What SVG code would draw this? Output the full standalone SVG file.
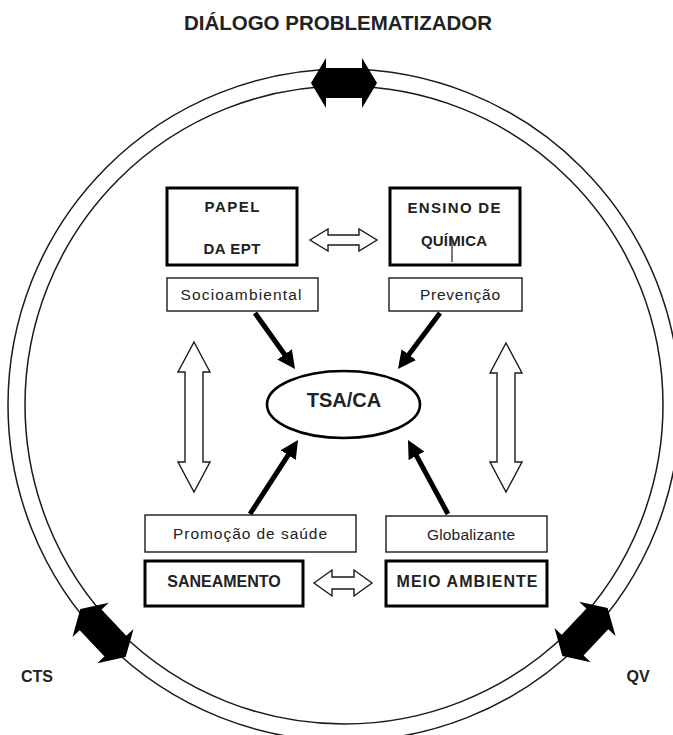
<svg xmlns="http://www.w3.org/2000/svg" width="673" height="735" viewBox="0 0 673 735">
<style>
.ring{fill:none;stroke:#1a1a1a;stroke-width:1.5}
.big{fill:#fff;stroke:#000;stroke-width:3}
.small{fill:#fff;stroke:#1a1a1a;stroke-width:1.4}
.hollow{fill:#fff;stroke:#1a1a1a;stroke-width:1.4;stroke-linejoin:miter}
.block{fill:#000}
.bt{font-family:"Liberation Sans",Arial,sans-serif;font-weight:bold;fill:#222;text-anchor:middle}
.rt{font-family:"Liberation Sans",Arial,sans-serif;fill:#222;text-anchor:middle}
.conn{stroke:#000;stroke-width:5;fill:none}
</style>
<defs>
<marker id="ah" markerUnits="userSpaceOnUse" markerWidth="20" markerHeight="18" refX="2" refY="9" orient="auto">
<path d="M0,0 L18,9 L0,18 Z" fill="#000"/>
</marker>
<path id="blk" d="M-33,0 L-18,-25 L-18,-15 L18,-15 L18,-25 L33,0 L18,25 L18,15 L-18,15 L-18,25 Z"/>
</defs>
<rect width="673" height="735" fill="#fff"/>
<text class="bt" x="338" y="30" font-size="20.5">DIÁLOGO PROBLEMATIZADOR</text>
<g id="ring">
<circle class="ring" cx="344" cy="405" r="336"/>
<circle class="ring" cx="344" cy="405" r="319"/>
<use href="#blk" class="block" transform="translate(344,83)"/>
<use href="#blk" class="block" transform="translate(103,633) rotate(46.6)"/>
<use href="#blk" class="block" transform="translate(585,632) rotate(-46.7)"/>
</g>
<g id="papel">
<rect class="big" x="167" y="188" width="130" height="77"/>
<text class="bt" x="232" y="212" font-size="15" textLength="55" lengthAdjust="spacing">PAPEL</text>
<text class="bt" x="232" y="254" font-size="15" textLength="57" lengthAdjust="spacing">DA EPT</text>
</g>
<g id="ensino">
<rect class="big" x="390" y="188" width="130" height="77"/>
<text class="bt" x="454" y="213" font-size="15" textLength="93" lengthAdjust="spacing">ENSINO DE</text>
<text class="bt" x="454" y="246" font-size="15" textLength="66" lengthAdjust="spacing">QUÍMICA</text>
<line x1="452" y1="238" x2="452" y2="262" stroke="#222" stroke-width="1.2"/>
</g>
<g id="socioambiental">
<rect class="small" x="167" y="278" width="151" height="33"/>
<text class="rt" x="241" y="300" font-size="15.5" textLength="121" lengthAdjust="spacing">Socioambiental</text>
</g>
<g id="prevencao">
<rect class="small" x="389" y="278" width="133" height="33"/>
<text class="rt" x="460" y="300" font-size="15.5" textLength="80" lengthAdjust="spacing">Prevenção</text>
</g>
<g id="tsaca">
<ellipse cx="343.5" cy="404.5" rx="76.5" ry="33.5" fill="#fff" stroke="#000" stroke-width="2.6"/>
<text class="bt" x="344" y="407" font-size="20">TSA/CA</text>
</g>
<g id="promocao">
<rect class="small" x="145" y="515" width="211" height="37"/>
<text class="rt" x="250" y="539" font-size="15.5" textLength="154" lengthAdjust="spacing">Promoção de saúde</text>
</g>
<g id="globalizante">
<rect class="small" x="386" y="516" width="161" height="36"/>
<text class="rt" x="471" y="540" font-size="15.5" textLength="88" lengthAdjust="spacing">Globalizante</text>
</g>
<g id="saneamento">
<rect class="big" x="145" y="561" width="158" height="45"/>
<text class="bt" x="224" y="587" font-size="16">SANEAMENTO</text>
</g>
<g id="meioambiente">
<rect class="big" x="386" y="561" width="161" height="45"/>
<text class="bt" x="467" y="587" font-size="16" textLength="141" lengthAdjust="spacing">MEIO AMBIENTE</text>
</g>
<g id="cts"><text class="bt" x="37" y="682" font-size="16">CTS</text></g>
<g id="qv"><text class="bt" x="638" y="682" font-size="16">QV</text></g>
<g id="connectors">
<polygon class="hollow" points="310,240 328,229 328,235 359,235 359,229 377,240 359,251 359,245 328,245 328,251"/>
<polygon class="hollow" points="314,583 332,570 332,577 354,577 354,570 372,583 354,596 354,589 332,589 332,596"/>
<polygon class="hollow" points="194,342 210,372 203,372 203,462 210,462 194,492 178,462 185,462 185,372 178,372"/>
<polygon class="hollow" points="506,343 522,373 515,373 515,462 522,462 506,492 490,462 497,462 497,373 490,373"/>
<line class="conn" x1="255" y1="313" x2="285.7" y2="356" marker-end="url(#ah)"/>
<line class="conn" x1="440" y1="313" x2="407.6" y2="356.2" marker-end="url(#ah)"/>
<line class="conn" x1="250" y1="514" x2="289.3" y2="453.4" marker-end="url(#ah)"/>
<line class="conn" x1="448" y1="514" x2="415.6" y2="454.1" marker-end="url(#ah)"/>
</g>
</svg>
